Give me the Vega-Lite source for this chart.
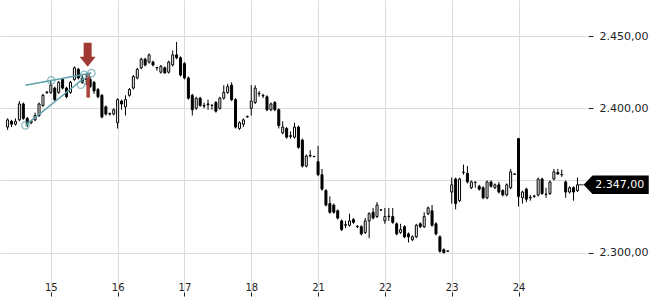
{
  "$schema": "https://vega.github.io/schema/vega-lite/v6.json",
  "width": 650,
  "height": 300,
  "autosize": {"type": "fit", "contains": "padding"},
  "padding": {"left": 0, "top": 0, "right": 0, "bottom": 3},
  "background": "white",
  "config": {"view": {"stroke": null}, "font": "DejaVu Sans"},
  "datasets": {
    "candles": [
      {"i":-11,"o":2387,"h":2393,"l":2385,"c":2392},
      {"i":-10,"o":2391,"h":2392,"l":2387,"c":2389},
      {"i":-9,"o":2389,"h":2393,"l":2388,"c":2391},
      {"i":-8,"o":2392,"h":2405,"l":2391,"c":2403},
      {"i":-7,"o":2403,"h":2404,"l":2392,"c":2393},
      {"i":-6,"o":2393,"h":2394,"l":2387,"c":2389},
      {"i":-5,"o":2390,"h":2392,"l":2389,"c":2391},
      {"i":-4,"o":2392,"h":2397,"l":2391,"c":2395},
      {"i":-3,"o":2395,"h":2404,"l":2394,"c":2403},
      {"i":-2,"o":2402,"h":2410,"l":2401,"c":2409},
      {"i":-1,"o":2410.8,"h":2412,"l":2410,"c":2411.2},
      {"i":0,"o":2411,"h":2419,"l":2410,"c":2416},
      {"i":1,"o":2414,"h":2415,"l":2405,"c":2406},
      {"i":2,"o":2411,"h":2419,"l":2410,"c":2418},
      {"i":3,"o":2420,"h":2421,"l":2413,"c":2414},
      {"i":4,"o":2414,"h":2415,"l":2407,"c":2408},
      {"i":5,"o":2411,"h":2419,"l":2410,"c":2418},
      {"i":6,"o":2420,"h":2429,"l":2419,"c":2428},
      {"i":7,"o":2427,"h":2428,"l":2420,"c":2421},
      {"i":8,"o":2421,"h":2423,"l":2417,"c":2418},
      {"i":9,"o":2420,"h":2424,"l":2416,"c":2420.4},
      {"i":10,"o":2420,"h":2422,"l":2414,"c":2415},
      {"i":11,"o":2418,"h":2419,"l":2410,"c":2412},
      {"i":12,"o":2413,"h":2414,"l":2407,"c":2408},
      {"i":13,"o":2409,"h":2410,"l":2393,"c":2394},
      {"i":14,"o":2401,"h":2402,"l":2395,"c":2396},
      {"i":15,"o":2396,"h":2397,"l":2395,"c":2396.3},
      {"i":16,"o":2396,"h":2400,"l":2395,"c":2399},
      {"i":17,"o":2390,"h":2407,"l":2386,"c":2406},
      {"i":18,"o":2405,"h":2406,"l":2399,"c":2403},
      {"i":19,"o":2401,"h":2409,"l":2395,"c":2406},
      {"i":20,"o":2409,"h":2414,"l":2408,"c":2413},
      {"i":21,"o":2414,"h":2423,"l":2413,"c":2422},
      {"i":22,"o":2421,"h":2428,"l":2420,"c":2427},
      {"i":23,"o":2428,"h":2435,"l":2427,"c":2434},
      {"i":24,"o":2434,"h":2435,"l":2429,"c":2430},
      {"i":25,"o":2432,"h":2438,"l":2431,"c":2437},
      {"i":26,"o":2432,"h":2433,"l":2429,"c":2430},
      {"i":27,"o":2428,"h":2428.6,"l":2426,"c":2428.3},
      {"i":28,"o":2425,"h":2430,"l":2424,"c":2429},
      {"i":29,"o":2428,"h":2429,"l":2424,"c":2424.5},
      {"i":30,"o":2425,"h":2433,"l":2424,"c":2432},
      {"i":31,"o":2430,"h":2440,"l":2429,"c":2437},
      {"i":32,"o":2437,"h":2446,"l":2434,"c":2435},
      {"i":33,"o":2435,"h":2436,"l":2422,"c":2423},
      {"i":34,"o":2431,"h":2432,"l":2420,"c":2421},
      {"i":35,"o":2421,"h":2422,"l":2406,"c":2407},
      {"i":36,"o":2409,"h":2410,"l":2395,"c":2399},
      {"i":37,"o":2400,"h":2408,"l":2399,"c":2407},
      {"i":38,"o":2407,"h":2408,"l":2401,"c":2402},
      {"i":39,"o":2402,"h":2404,"l":2400,"c":2401.5},
      {"i":40,"o":2403,"h":2406,"l":2399,"c":2402.5},
      {"i":41,"o":2402,"h":2402.5,"l":2399,"c":2402.2},
      {"i":42,"o":2404,"h":2405,"l":2397,"c":2398},
      {"i":43,"o":2400,"h":2408,"l":2399,"c":2407},
      {"i":44,"o":2407,"h":2416,"l":2406,"c":2411},
      {"i":45,"o":2411,"h":2417,"l":2410,"c":2415},
      {"i":46,"o":2416,"h":2418,"l":2405,"c":2406},
      {"i":47,"o":2406,"h":2407,"l":2386,"c":2387},
      {"i":48,"o":2386,"h":2391,"l":2385,"c":2390},
      {"i":49,"o":2389,"h":2393,"l":2387,"c":2392},
      {"i":50,"o":2394,"h":2395,"l":2393.5,"c":2394.3},
      {"i":51,"o":2400,"h":2416,"l":2395,"c":2405},
      {"i":52,"o":2404,"h":2416,"l":2403,"c":2414},
      {"i":53,"o":2410,"h":2412,"l":2408,"c":2410.4},
      {"i":54,"o":2409,"h":2410,"l":2407,"c":2408.6},
      {"i":55,"o":2408,"h":2409,"l":2398,"c":2399},
      {"i":56,"o":2399,"h":2404,"l":2398,"c":2403},
      {"i":57,"o":2404,"h":2405,"l":2398,"c":2399},
      {"i":58,"o":2399,"h":2400,"l":2386,"c":2388},
      {"i":59,"o":2383,"h":2391,"l":2382,"c":2387},
      {"i":60,"o":2386,"h":2387,"l":2379,"c":2380},
      {"i":61,"o":2381,"h":2384,"l":2379,"c":2380.6},
      {"i":62,"o":2380,"h":2390,"l":2379,"c":2387},
      {"i":63,"o":2387,"h":2388,"l":2372,"c":2373},
      {"i":64,"o":2378,"h":2379,"l":2359,"c":2360},
      {"i":65,"o":2360,"h":2368,"l":2359,"c":2367},
      {"i":66,"o":2367,"h":2371,"l":2366,"c":2367.4},
      {"i":67,"o":2366.5,"h":2367,"l":2366.2,"c":2366.7},
      {"i":68,"o":2363,"h":2374,"l":2353,"c":2354},
      {"i":69,"o":2354,"h":2358,"l":2343,"c":2344},
      {"i":70,"o":2343,"h":2344,"l":2332,"c":2333},
      {"i":71,"o":2334,"h":2339,"l":2327,"c":2328},
      {"i":72,"o":2333,"h":2334,"l":2327,"c":2328},
      {"i":73,"o":2329,"h":2330,"l":2323,"c":2324},
      {"i":74,"o":2322,"h":2323,"l":2315,"c":2316},
      {"i":75,"o":2319,"h":2322,"l":2317,"c":2319.4},
      {"i":76,"o":2319,"h":2327,"l":2318,"c":2322},
      {"i":77,"o":2323,"h":2324,"l":2320,"c":2321},
      {"i":78,"o":2318,"h":2319,"l":2317,"c":2318.3},
      {"i":79,"o":2318,"h":2319,"l":2312,"c":2313},
      {"i":80,"o":2314,"h":2324,"l":2313,"c":2322},
      {"i":81,"o":2322,"h":2328,"l":2310,"c":2327},
      {"i":82,"o":2328,"h":2331,"l":2323,"c":2324},
      {"i":83,"o":2325,"h":2335,"l":2324,"c":2333},
      {"i":84,"o":2329.5,"h":2330,"l":2329,"c":2329.7},
      {"i":85,"o":2322,"h":2331,"l":2320,"c":2325},
      {"i":86,"o":2325,"h":2331,"l":2322,"c":2325.3},
      {"i":87,"o":2325,"h":2331,"l":2320,"c":2321},
      {"i":88,"o":2320,"h":2321,"l":2312,"c":2313},
      {"i":89,"o":2314,"h":2320,"l":2313,"c":2316},
      {"i":90,"o":2318,"h":2319,"l":2310,"c":2311},
      {"i":91,"o":2313,"h":2314,"l":2307,"c":2311},
      {"i":92,"o":2309,"h":2312,"l":2308,"c":2311},
      {"i":93,"o":2311,"h":2320,"l":2310,"c":2319},
      {"i":94,"o":2320,"h":2321,"l":2317,"c":2318},
      {"i":95,"o":2318,"h":2328,"l":2317,"c":2325},
      {"i":96,"o":2327,"h":2332,"l":2326,"c":2331},
      {"i":97,"o":2329,"h":2333,"l":2318,"c":2319},
      {"i":98,"o":2320,"h":2321,"l":2312,"c":2313},
      {"i":99,"o":2311,"h":2312,"l":2300,"c":2301},
      {"i":100,"o":2302,"h":2303,"l":2299.5,"c":2300},
      {"i":101,"o":2301,"h":2301.5,"l":2300.8,"c":2301.2},
      {"i":102,"o":2342,"h":2352,"l":2334,"c":2347},
      {"i":103,"o":2351,"h":2352,"l":2330,"c":2334},
      {"i":104,"o":2336,"h":2352,"l":2335,"c":2351},
      {"i":105,"o":2355.5,"h":2361,"l":2354,"c":2355.8},
      {"i":106,"o":2355,"h":2360,"l":2348,"c":2349},
      {"i":107,"o":2345,"h":2350,"l":2344,"c":2349},
      {"i":108,"o":2348.7,"h":2349,"l":2345,"c":2348.9},
      {"i":109,"o":2346,"h":2347,"l":2343,"c":2344},
      {"i":110,"o":2345,"h":2346,"l":2337,"c":2338},
      {"i":111,"o":2338,"h":2350,"l":2337,"c":2349},
      {"i":112,"o":2349,"h":2350,"l":2345,"c":2346},
      {"i":113,"o":2345,"h":2348,"l":2344,"c":2347},
      {"i":114,"o":2347,"h":2349,"l":2341,"c":2342},
      {"i":115,"o":2343,"h":2344,"l":2339,"c":2340},
      {"i":116,"o":2340,"h":2348,"l":2339,"c":2347},
      {"i":117,"o":2345,"h":2358,"l":2344,"c":2356},
      {"i":118,"o":2354.5,"h":2355,"l":2354,"c":2354.3},
      {"i":119,"o":2379,"h":2379.5,"l":2332,"c":2339},
      {"i":120,"o":2338,"h":2343,"l":2334,"c":2342},
      {"i":121,"o":2344,"h":2345,"l":2335,"c":2337},
      {"i":122,"o":2338.3,"h":2340,"l":2336,"c":2338},
      {"i":123,"o":2339,"h":2340,"l":2338,"c":2339.2},
      {"i":124,"o":2340,"h":2352,"l":2339,"c":2351},
      {"i":125,"o":2351,"h":2352,"l":2340,"c":2341},
      {"i":126,"o":2340.5,"h":2345,"l":2338,"c":2340.3},
      {"i":127,"o":2341,"h":2350,"l":2340,"c":2349},
      {"i":128,"o":2351,"h":2358,"l":2350,"c":2356},
      {"i":129,"o":2355.5,"h":2358,"l":2354,"c":2354.5},
      {"i":130,"o":2354.2,"h":2357.5,"l":2352.5,"c":2354},
      {"i":131,"o":2349,"h":2350,"l":2338,"c":2342},
      {"i":132,"o":2342,"h":2346,"l":2341,"c":2345},
      {"i":133,"o":2345,"h":2346,"l":2336,"c":2342},
      {"i":134,"o":2343,"h":2352,"l":2342,"c":2347}
    ],
    "trend": [
      {"line":"upper","i":-6.45,"p":2416.0},
      {"line":"upper","i":10.33,"p":2424.4},
      {"line":"lower","i":-6.45,"p":2388.2},
      {"line":"lower","i":8.5,"p":2421.0}
    ],
    "pivots": [
      {"i":0.1,"p":2419.3},
      {"i":8.49,"p":2423.2},
      {"i":10.33,"p":2424.4},
      {"i":-6.45,"p":2388.2},
      {"i":7.65,"p":2416.3}
    ],
    "signal": [{"i":9.05,"i2":9.95,"p":2424.6,"p2":2407.4}],
    "arrow": [{"i":9.37,"p":2437.0}],
    "tag": [{"i":135.57,"i0":134.3,"ti":138.5,"p":2347,"label":"2.347,00"}]
  },
  "layer": [
    {
      "data": {"name": "candles"},
      "mark": {"type": "rule", "color": "black", "strokeWidth": 1},
      "encoding": {
        "x": {"field": "i", "type": "quantitative", "title": null,
              "scale": {"domain": [-11.66, 134.9], "nice": false, "zero": false},
              "axis": {"title": null, "values": [0,17,34,51,68,85,102,119],
                       "labelExpr": "['15','16','17','18','21','22','23','24'][round(datum.value/17)]",
                       "grid": true, "gridColor": "#dcdcdc", "gridWidth": 1, "domain": false,
                       "tickSize": -4, "tickColor": "#222", "labelPadding": -2,
                       "labelBaseline": "alphabetic", "labelFontSize": 10, "labelColor": "#222",
                       "labelFont": "DejaVu Sans", "labelFlush": false}},
        "y": {"field": "l", "type": "quantitative", "title": null,
              "scale": {"domain": [2270, 2475], "nice": false, "zero": false},
              "axis": {"title": null, "orient": "right", "values": [2300,2350,2400,2450],
                       "labelExpr": "replace(replace(replace(format(datum.value, ',.2f'), ',', '#'), '.', ','), '#', '.')",
                       "grid": true, "gridColor": "#dcdcdc", "gridWidth": 1, "domain": false,
                       "tickSize": 5, "offset": 2, "labelPadding": 6, "tickColor": "#222",
                       "labelFontSize": 11, "labelColor": "#222", "labelFont": "DejaVu Sans"}},
        "y2": {"field": "h"}
      }
    },
    {
      "data": {"name": "candles"},
      "mark": {"type": "bar", "size": 2, "stroke": "black", "strokeWidth": 1},
      "encoding": {
        "x": {"field": "i", "type": "quantitative", "title": null},
        "y": {"field": "o", "type": "quantitative", "title": null},
        "y2": {"field": "c"},
        "fill": {"condition": {"test": "datum.c >= datum.o", "value": "white"}, "value": "black"}
      }
    },
    {
      "data": {"name": "signal"},
      "mark": {"type": "rect", "color": "#a63a32", "opacity": 0.95},
      "encoding": {
        "x": {"field": "i", "type": "quantitative", "title": null},
        "x2": {"field": "i2"},
        "y": {"field": "p", "type": "quantitative", "title": null},
        "y2": {"field": "p2"}
      }
    },
    {
      "data": {"name": "trend"},
      "mark": {"type": "line", "color": "#5fa3ab", "strokeWidth": 1.5},
      "encoding": {
        "x": {"field": "i", "type": "quantitative", "title": null},
        "y": {"field": "p", "type": "quantitative", "title": null},
        "detail": {"field": "line"}
      }
    },
    {
      "data": {"name": "pivots"},
      "mark": {"type": "point", "shape": "circle", "filled": false, "color": "#5fa3ab", "strokeWidth": 1.3, "size": 55},
      "encoding": {
        "x": {"field": "i", "type": "quantitative", "title": null},
        "y": {"field": "p", "type": "quantitative", "title": null}
      }
    },
    {
      "data": {"name": "arrow"},
      "mark": {"type": "point", "shape": "M-0.5,-1.5 L0.5,-1.5 L0.5,0.25 L1,0.25 L0,1.5 L-1,0.25 L-0.5,0.25 Z", "filled": true, "color": "#9e3a32", "opacity": 1, "size": 256, "strokeWidth": 0},
      "encoding": {
        "x": {"field": "i", "type": "quantitative", "title": null},
        "y": {"field": "p", "type": "quantitative", "title": null}
      }
    },
    {
      "data": {"name": "tag"},
      "mark": {"type": "rule", "color": "#222", "strokeWidth": 1},
      "encoding": {
        "x": {"field": "i0", "type": "quantitative", "title": null},
        "x2": {"field": "i"},
        "y": {"field": "p", "type": "quantitative", "title": null}
      }
    },
    {
      "data": {"name": "tag"},
      "mark": {"type": "point", "shape": "M0,0 L0.95,-1 L7.0,-1 L7.0,1 L0.95,1 Z", "filled": true, "color": "black", "opacity": 1, "size": 346, "strokeWidth": 0},
      "encoding": {
        "x": {"field": "i", "type": "quantitative", "title": null},
        "y": {"field": "p", "type": "quantitative", "title": null}
      }
    },
    {
      "data": {"name": "tag"},
      "mark": {"type": "text", "color": "white", "fontSize": 11, "font": "DejaVu Sans", "align": "left", "baseline": "middle"},
      "encoding": {
        "x": {"field": "ti", "type": "quantitative", "title": null},
        "y": {"field": "p", "type": "quantitative", "title": null},
        "text": {"field": "label"}
      }
    }
  ]
}
